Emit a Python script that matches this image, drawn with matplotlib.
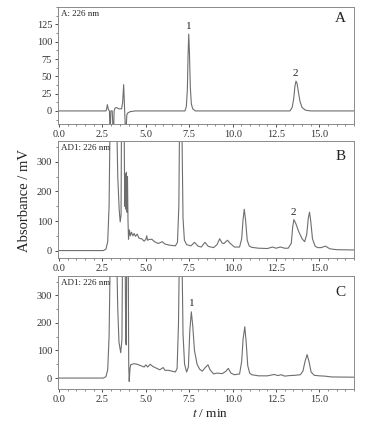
import matplotlib
matplotlib.use("Agg")
import matplotlib.pyplot as plt
from matplotlib.ticker import MultipleLocator

plt.rcParams['font.family'] = ['Liberation Serif', 'DejaVu Serif']
plt.rcParams['mathtext.fontset'] = 'stix'

""" Chromatogram traces read off the figure (t in min, signal in mV) """

# panel A: standard mixture
t_a = [0, 2.7, 2.74, 2.78, 2.84, 2.9, 2.94, 2.98, 3.06, 3.13, 3.17, 3.22, 3.3, 3.45, 3.6,
       3.66, 3.72, 3.77, 3.84, 3.9, 3.95, 4.1, 4.4,
       7.25, 7.33, 7.39, 7.43, 7.47, 7.51, 7.56, 7.62, 7.7, 7.85,
       13.3, 13.43, 13.52, 13.59, 13.65, 13.71, 13.79, 13.88, 14.0, 14.2, 14.5, 17.1]
y_a = [0, 0, 3, 9, 2, 0, -40, 0, 0, -40, 0, 4, 5, 3, 3,
       12, 38, 5, -40, -6, -3, -1, 0,
       0, 6, 30, 80, 111, 85, 35, 10, 3, 0,
       0, 5, 18, 36, 43, 40, 27, 14, 5, 1, 0, 0]

# panel B: sample extract
t_b = [0, 2.55, 2.7, 2.8, 2.88, 2.95, 3.3, 3.38, 3.46, 3.52, 3.57, 3.6, 3.74, 3.78,
       3.82, 3.85, 3.88, 3.91, 3.94, 3.97, 4.0, 4.05, 4.1, 4.17, 4.25, 4.32, 4.4, 4.5,
       4.6, 4.75, 4.9, 5.0, 5.05, 5.1, 5.2, 5.35, 5.5, 5.7, 5.95, 6.1, 6.4, 6.7, 6.82,
       6.9, 6.95, 7.07, 7.14, 7.22, 7.35, 7.6, 7.8, 8.0, 8.2, 8.4, 8.6, 8.9, 9.1, 9.25,
       9.4, 9.5, 9.7, 9.85, 10.1, 10.4, 10.52, 10.6, 10.67, 10.75, 10.84, 10.95, 11.1, 11.5, 12.0,
       12.3, 12.5, 12.75, 13.0, 13.2, 13.38, 13.46, 13.53, 13.65, 13.8, 14.0, 14.15, 14.27,
       14.36, 14.43, 14.5, 14.6, 14.75, 14.9, 15.1, 15.35, 15.6, 16.0, 17.1]
y_b = [0, 0, 5, 30, 150, 500, 500, 250, 140, 97, 120, 500, 500, 150,
       260, 140, 265, 130, 250, 100, 38, 70, 50, 62, 50, 58, 48, 56,
       42, 40, 32, 38, 50, 35, 38, 38, 30, 24, 30, 22, 18, 16, 28,
       150, 500, 450, 110, 35, 20, 16, 28, 15, 12, 28, 14, 10, 20, 40,
       25, 24, 35, 25, 12, 12, 40, 105, 140, 100, 35, 16, 11, 8, 7,
       12, 8, 12, 8, 8, 25, 80, 105, 90, 65, 40, 30, 55,
       110, 130, 100, 40, 15, 10, 10, 15, 6, 3, 2]

# panel C: spiked sample
t_c = [0, 2.55, 2.7, 2.8, 2.88, 2.96, 3.3, 3.38, 3.45, 3.55, 3.62, 3.66, 3.8, 3.84,
       3.87, 3.9, 3.98, 4.01, 4.04, 4.08, 4.12, 4.3, 4.5, 4.7, 4.9, 5.0, 5.1, 5.25,
       5.4, 5.6, 5.8, 6.0, 6.1, 6.3, 6.5, 6.7, 6.8, 6.88, 6.94, 7.07, 7.14, 7.23,
       7.35, 7.45, 7.53, 7.62, 7.7, 7.8, 7.95, 8.1, 8.25, 8.45, 8.58, 8.7, 8.9, 9.1,
       9.4, 9.6, 9.75, 9.9, 10.1, 10.4, 10.52, 10.6, 10.7, 10.78, 10.87, 10.98, 11.1, 11.5, 12.0,
       12.4, 12.6, 12.8, 13.0, 13.3, 13.6, 13.9, 14.05, 14.17, 14.29, 14.4, 14.52,
       14.7, 15.0, 15.3, 15.7, 17.1]
y_c = [0, 0, 5, 30, 150, 500, 500, 250, 130, 92, 140, 500, 500, 130,
       120, 500, 500, 50, -12, 30, 48, 52, 50, 45, 40, 48, 40, 50,
       42, 36, 30, 38, 28, 28, 25, 22, 35, 200, 500, 500, 160, 50,
       22, 40, 170, 240, 190, 100, 50, 32, 25, 40, 48, 30, 15, 18,
       16, 24, 35, 18, 12, 15, 60, 140, 186, 130, 45, 18, 12, 8, 8,
       13, 9, 12, 7, 9, 10, 12, 25, 60, 85, 60, 22,
       10, 8, 7, 4, 3]

panels = [
    (t_a, y_a, (-19, 150), [0, 25, 50, 75, 100, 125], "A: 226 nm", "A", 133,
     [(7.47, 116, "1"), (13.64, 48, "2")]),
    (t_b, y_b, (-26, 371), [0, 100, 200, 300], "AD1: 226 nm", "B", 320,
     [(13.5, 112, "2")]),
    (t_c, y_c, (-40, 370), [0, 100, 200, 300], "AD1: 226 nm", "C", 310,
     [(7.62, 255, "1")]),
]

fig = plt.figure(figsize=(3.9, 4.22), dpi=100)
boxes = [(0.148, 0.706, 0.760, 0.277),
         (0.148, 0.388, 0.760, 0.278),
         (0.148, 0.078, 0.760, 0.268)]

grey = "#6e6e6e"
for box, (t, y, ylim, yt, tag, letter, ly, marks) in zip(boxes, panels):
    ax = fig.add_axes(box)
    ax.plot(t, y, color=grey, lw=0.8)
    ax.set_xlim(-0.08, 17.0)
    ax.set_ylim(*ylim)
    ax.set_yticks(yt)
    ax.xaxis.set_major_locator(MultipleLocator(2.5))
    ax.xaxis.set_minor_locator(MultipleLocator(0.5))
    ax.yaxis.set_minor_locator(MultipleLocator(yt[1] / 2))
    ax.xaxis.set_major_formatter(plt.FormatStrFormatter("%.1f"))
    ax.tick_params(labelsize=7.5, colors="#333333", length=2.5, width=0.6, pad=1.5)
    ax.tick_params(which="minor", length=1.3, width=0.5, colors="#555555")
    for s in ax.spines.values():
        s.set_color("#8a8a8a")
        s.set_linewidth(0.7)
    ax.text(0.012, 0.975, tag, transform=ax.transAxes, ha="left", va="top",
            fontsize=6.5, color="#222222")
    ax.text(16.2, ly, letter, ha="center", va="center", fontsize=11, color="#222222")
    for mx, my, ml in marks:
        ax.text(mx, my, ml, ha="center", va="bottom", fontsize=8, color="#222222")

fig.text(0.538, 0.004, "$t$ / min", ha="center", va="bottom", fontsize=9.5, color="#222222")
fig.text(0.064, 0.526, "Absorbance / mV", rotation=90, ha="center", va="center",
         fontsize=10.5, color="#222222")

fig.savefig("out.png", dpi=100)
